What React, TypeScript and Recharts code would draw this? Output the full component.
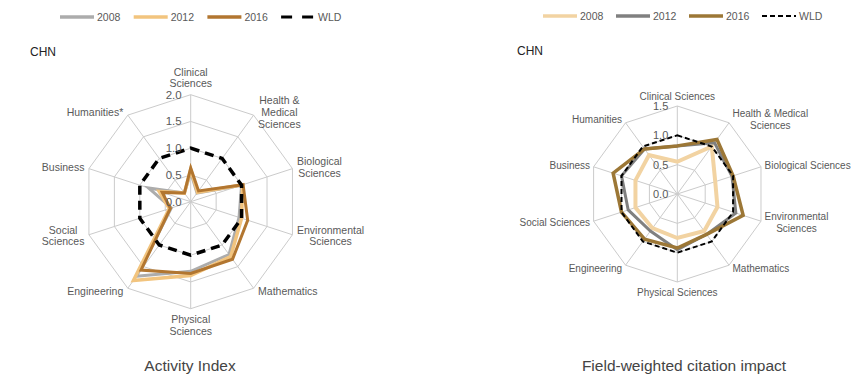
import { RadarChart, Radar, PolarGrid, PolarAngleAxis, PolarRadiusAxis } from "recharts";

const activityLabels = [
  "Clinical\nSciences",
  "Health &\nMedical\nSciences",
  "Biological\nSciences",
  "Environmental\nSciences",
  "Mathematics",
  "Physical\nSciences",
  "Engineering",
  "Social\nSciences",
  "Business",
  "Humanities*",
];

const fwciLabels = [
  "Clinical Sciences",
  "Health & Medical\nSciences",
  "Biological Sciences",
  "Environmental\nSciences",
  "Mathematics",
  "Physical Sciences",
  "Engineering",
  "Social Sciences",
  "Business",
  "Humanities",
];

const activityTicks = [0, 0.5, 1, 1.5, 2];
const fwciTicks = [0, 0.5, 1, 1.5];

const activity2008 = [0.55, 0.2, 1.0, 0.95, 1.22, 1.3, 1.72, 0.38, 0.83, 0.2];
const activity2012 = [0.6, 0.22, 1.02, 1.0, 1.27, 1.38, 1.82, 0.42, 0.62, 0.2];
const activity2016 = [0.63, 0.25, 1.03, 1.12, 1.33, 1.34, 1.58, 0.4, 0.56, 0.2];
const activityWld = [1, 1, 1, 1, 1, 1, 1, 1, 1, 1];

const fwci2008 = [0.55, 1.0, 0.68, 0.72, 0.78, 0.75, 0.72, 0.75, 0.75, 0.82];
const fwci2012 = [0.82, 1.08, 0.98, 1.05, 0.85, 0.95, 0.78, 0.88, 1.0, 0.95];
const fwci2016 = [0.82, 1.15, 1.0, 1.18, 0.85, 0.92, 0.95, 1.0, 1.15, 0.95];
const fwciWld = [1, 1, 1, 1, 1, 1, 1, 1, 1, 1];

const FONT = '"Liberation Sans", Arial, sans-serif';
const TEXT = "#595959";

let ctx: CanvasRenderingContext2D | null = null;
function measure(s: string, size: number) {
  if (!ctx) ctx = document.createElement("canvas").getContext("2d");
  if (!ctx) return s.length * size * 0.55;
  ctx.font = `${size}px "Liberation Sans"`;
  return ctx.measureText(s).width;
}

type Geo = { cx: number; cy: number; r: number; size: number; lineH: number; gapV: number; gapH: number };

function angleTick(labels: string[], g: Geo) {
  return (props: any) => {
    const value = String(props.payload?.value ?? "");
    const i = labels.indexOf(value);
    const a = ((90 - i * 36) * Math.PI) / 180;
    const c = Math.cos(a);
    const s = Math.sin(a);
    const vx = g.cx + g.r * c;
    const vy = g.cy - g.r * s;
    const lines = value.split("\n");
    const w = Math.max(...lines.map((l) => measure(l, g.size)));
    const blockH = lines.length * g.lineH;
    let x: number;
    let yc: number;
    if (Math.abs(c) < 0.01) {
      x = vx;
      yc = s > 0 ? vy - g.gapV - blockH / 2 : vy + g.gapV + blockH / 2;
    } else {
      x = c > 0 ? vx + g.gapH + w / 2 : vx - g.gapH - w / 2;
      yc = vy - s * 3.5;
    }
    const y0 = yc - ((lines.length - 1) * g.lineH) / 2;
    return (
      <text textAnchor="middle" fontSize={g.size} fill={TEXT} fontFamily={FONT}>
        {lines.map((l, k) => (
          <tspan key={k} x={x} y={y0 + k * g.lineH + g.size * 0.35}>
            {l}
          </tspan>
        ))}
      </text>
    );
  };
}

function radiusTick(size: number, gap: number) {
  return (props: any) => (
    <text
      x={props.x - gap}
      y={props.y + size * 0.35}
      textAnchor="end"
      fontSize={size}
      fill={TEXT}
      fontFamily={FONT}
    >
      {Number(props.payload.value).toFixed(1)}
    </text>
  );
}

type Series = { name: string; values: number[]; color: string; width: number; dash?: string };

const activitySeries: Series[] = [
  { name: "2008", values: activity2008, color: "#acacac", width: 3 },
  { name: "2012", values: activity2012, color: "#f2c47e", width: 3.5 },
  { name: "2016", values: activity2016, color: "#b27630", width: 3 },
  { name: "WLD", values: activityWld, color: "#000000", width: 3.5, dash: "9 6" },
];

const fwciSeries: Series[] = [
  { name: "2008", values: fwci2008, color: "#f2d3a2", width: 4 },
  { name: "2012", values: fwci2012, color: "#808080", width: 3 },
  { name: "2016", values: fwci2016, color: "#9c7736", width: 3.5 },
  { name: "WLD", values: fwciWld, color: "#000000", width: 2, dash: "5 3" },
];

function Legend({ series, x0, y, step }: { series: Series[]; x0: number; y: number; step: number }) {
  return (
    <g>
      {series.map((s, i) => {
        const x = x0 + i * step;
        return (
          <g key={s.name}>
            <line
              x1={x}
              x2={x + 34}
              y1={y}
              y2={y}
              stroke={s.color}
              strokeWidth={s.dash ? Math.max(2, s.width - 0.5) : 3.5}
              strokeDasharray={s.dash ? (s.width > 2.5 ? "11 10" : "5 3") : undefined}
            />
            <text x={x + 37} y={y + 4} fontSize={10.5} fill={TEXT} fontFamily={FONT}>
              {s.name}
            </text>
          </g>
        );
      })}
    </g>
  );
}

type PanelProps = {
  labels: string[];
  series: Series[];
  width: number;
  geo: Geo;
  ticks: number[];
  radiusSize: number;
};

function Panel({ labels, series, width, geo, ticks, radiusSize }: PanelProps) {
  const rows = labels.map((label, i) => {
    const row: Record<string, string | number> = { label };
    series.forEach((s) => (row[s.name] = s.values[i]));
    return row;
  });
  const max = ticks[ticks.length - 1];
  return (
    <RadarChart
      width={width}
      height={384}
      cx={geo.cx}
      cy={geo.cy}
      outerRadius={geo.r}
      data={rows}
      margin={{ top: 0, right: 0, bottom: 0, left: 0 }}
    >
      <PolarGrid gridType="polygon" stroke="#cbcbcb" strokeWidth={1} />
      <PolarAngleAxis dataKey="label" tickLine={false} axisLine={false} tick={angleTick(labels, geo)} />
      <PolarRadiusAxis
        angle={90}
        type="number"
        domain={[0, max]}
        ticks={ticks as any}
        tickCount={ticks.length}
        allowDecimals
        allowDataOverflow
        axisLine={false}
        tick={radiusTick(radiusSize, 9)}
      />
      {series.map((s) => (
        <Radar
          key={s.name}
          dataKey={s.name}
          stroke={s.color}
          strokeWidth={s.width}
          strokeDasharray={s.dash}
          strokeLinejoin="miter"
          fill="none"
          fillOpacity={0}
          dot={false}
          isAnimationActive={false}
        />
      ))}
    </RadarChart>
  );
}

export default function App() {
  return (
    <div
      style={{
        position: "absolute",
        left: 0,
        top: 0,
        width: 855,
        height: 384,
        background: "#fff",
        fontFamily: FONT,
        overflow: "hidden",
      }}
    >
      <div style={{ position: "absolute", left: 0, top: 0 }}>
        <Panel
          labels={activityLabels}
          series={activitySeries}
          width={430}
          geo={{ cx: 190.7, cy: 201.7, r: 107, size: 10.5, lineH: 11.8, gapV: 5, gapH: 4.5 }}
          ticks={activityTicks}
          radiusSize={11.5}
        />
      </div>
      <div style={{ position: "absolute", left: 430, top: 0 }}>
        <Panel
          labels={fwciLabels}
          series={fwciSeries}
          width={425}
          geo={{ cx: 247.3, cy: 194, r: 88, size: 10, lineH: 12, gapV: 4, gapH: 3.5 }}
          ticks={fwciTicks}
          radiusSize={11}
        />
      </div>
      <svg
        width={855}
        height={384}
        style={{ position: "absolute", left: 0, top: 0, pointerEvents: "none" }}
      >
        <Legend series={activitySeries} x0={60} y={17} step={73.7} />
        <Legend series={fwciSeries} x0={543} y={16} step={73} />
        <text x={30} y={56} fontSize={12} fill="#222" fontFamily={FONT}>
          CHN
        </text>
        <text x={517} y={55} fontSize={12} fill="#222" fontFamily={FONT}>
          CHN
        </text>
        <text x={190} y={371} fontSize={15.5} fill="#444" textAnchor="middle" fontFamily={FONT}>
          Activity Index
        </text>
        <text x={684} y={371} fontSize={15.5} fill="#444" textAnchor="middle" fontFamily={FONT}>
          Field-weighted citation impact
        </text>
      </svg>
    </div>
  );
}
